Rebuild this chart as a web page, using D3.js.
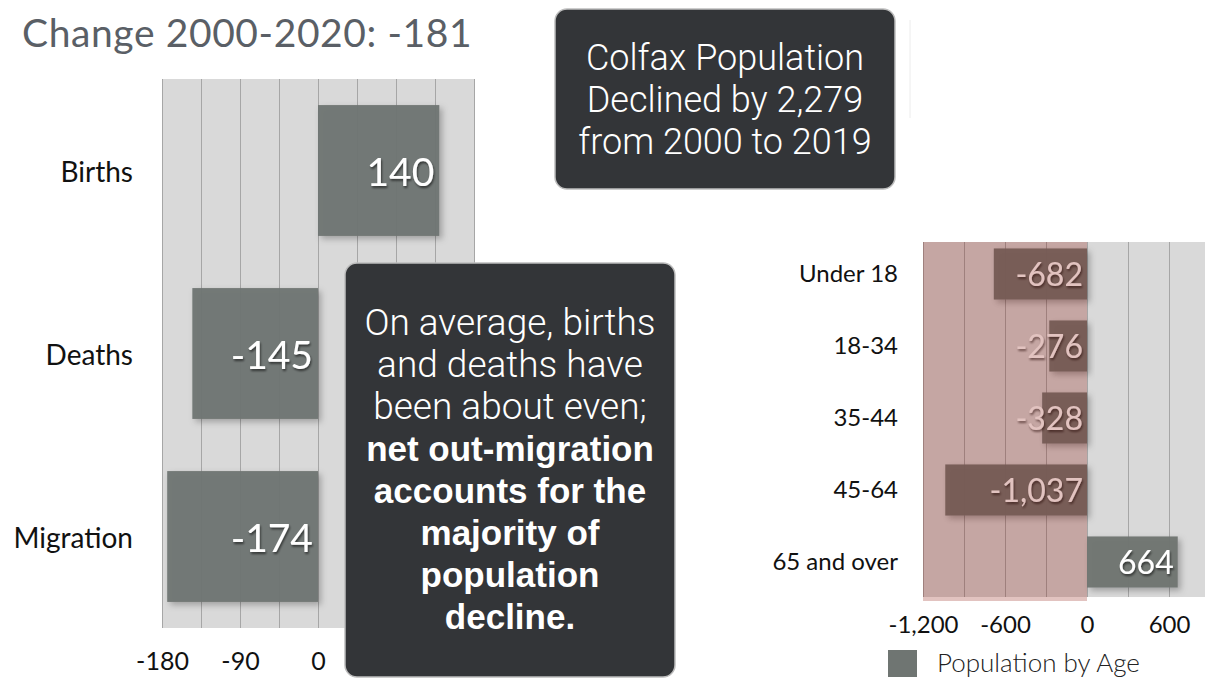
<!DOCTYPE html>
<html>
<head>
<meta charset="utf-8">
<script src="https://cdn.jsdelivr.net/npm/d3@7"></script>
<style>
  html, body { margin: 0; padding: 0; background: #ffffff; }
  svg { display: block; }
</style>
</head>
<body>
<svg id="chart" width="1205" height="679"></svg>
<script>
// Components of change, 2000-2020
const componentNames = ["Births", "Deaths", "Migration"];
const componentValues = [140, -145, -174];
const componentTicks = [-180, -90, 0, 90, 180];
const componentGridStep = 45;

// Population change by age group
const ageGroups = ["Under 18", "18-34", "35-44", "45-64", "65 and over"];
const ageValues = [-682, -276, -328, -1037, 664];
const ageTicks = [-1200, -600, 0, 600];
const ageGridStep = 300;

const titleText = "Change 2000-2020: -181";
const legendLabel = "Population by Age";
const headlineLines = ["Colfax Population", "Declined by 2,279", "from 2000 to 2019"];
const noteLines = [
  { t: "On average, births", bold: false },
  { t: "and deaths have", bold: false },
  { t: "been about even;", bold: false },
  { t: "net out-migration", bold: true },
  { t: "accounts for the", bold: true },
  { t: "majority of", bold: true },
  { t: "population", bold: true },
  { t: "decline.", bold: true }
];

const fmt = d3.formatLocale({ decimal: ".", thousands: ",", grouping: [3], currency: ["$", ""], minus: "-" }).format(",");

const BAR = "#6f7572";
const PLOT_BG = "#d9d9d9";
const GRID = "#a6a6a6";
const LABEL_FONT = "Lato, 'Gill Sans', 'Noto Sans', sans-serif";

const svg = d3.select("#chart");
const defs = svg.append("defs");

const barShadow = defs.append("filter").attr("id", "barShadow")
  .attr("x", "-10%").attr("y", "-10%").attr("width", "130%").attr("height", "130%");
barShadow.append("feDropShadow").attr("dx", 3).attr("dy", 3).attr("stdDeviation", 3)
  .attr("flood-color", "#000").attr("flood-opacity", 0.28);

const textShadow = defs.append("filter").attr("id", "textShadow")
  .attr("x", "-10%").attr("y", "-10%").attr("width", "130%").attr("height", "140%");
textShadow.append("feDropShadow").attr("dx", 1).attr("dy", 2).attr("stdDeviation", 1)
  .attr("flood-color", "#000").attr("flood-opacity", 0.55);

// ---------- Title ----------
svg.append("text")
  .attr("x", 22).attr("y", 47)
  .attr("font-family", "Lato, 'Open Sans', sans-serif")
  .attr("font-size", 39)
  .attr("letter-spacing", 0.6)
  .attr("fill", "#5a5f66")
  .text(titleText);

// ---------- Components chart ----------
const xC = d3.scaleLinear().domain([-180, 180]).range([162, 474]);
const yC = d3.scaleBand().domain(componentNames).range([79, 628]).paddingInner(0.285).paddingOuter(0.1425);

const gC = svg.append("g");
gC.append("rect")
  .attr("x", xC(-180)).attr("y", 79)
  .attr("width", xC(180) - xC(-180)).attr("height", 628 - 79)
  .attr("fill", PLOT_BG);

gC.append("g")
  .attr("transform", "translate(0,628)")
  .call(d3.axisBottom(xC).tickValues(d3.range(-180, 181, componentGridStep)).tickSize(-(628 - 79)).tickFormat(""))
  .call(g => g.select(".domain").remove())
  .call(g => g.selectAll("line").attr("stroke", GRID).attr("stroke-width", 1));

gC.selectAll("rect.bar")
  .data(componentValues)
  .join("rect")
  .attr("class", "bar")
  .attr("x", d => xC(Math.min(0, d)))
  .attr("width", d => Math.abs(xC(d) - xC(0)))
  .attr("y", (d, i) => yC(componentNames[i]))
  .attr("height", yC.bandwidth())
  .attr("fill", BAR)
  .attr("fill-opacity", 0.95)
  .attr("filter", "url(#barShadow)");

gC.selectAll("text.val")
  .data(componentValues)
  .join("text")
  .attr("class", "val")
  .attr("x", d => xC(Math.max(0, d)) - 5)
  .attr("y", (d, i) => yC(componentNames[i]) + yC.bandwidth() / 2 + 15)
  .attr("text-anchor", "end")
  .attr("font-family", LABEL_FONT)
  .attr("font-size", 39)
  .attr("fill", "#ffffff")
  .attr("filter", "url(#textShadow)")
  .text(d => fmt(d));

gC.selectAll("text.cat")
  .data(componentNames)
  .join("text")
  .attr("class", "cat")
  .attr("x", 133)
  .attr("y", d => yC(d) + yC.bandwidth() / 2 + 11)
  .attr("text-anchor", "end")
  .attr("font-family", LABEL_FONT)
  .attr("font-size", 28)
  .attr("fill", "#111")
  .text(d => d);

gC.append("g")
  .attr("transform", "translate(0,670)")
  .call(d3.axisBottom(xC).tickValues(componentTicks).tickSize(0).tickPadding(0).tickFormat(fmt))
  .call(g => g.select(".domain").remove())
  .call(g => g.selectAll("text")
    .attr("dy", 0)
    .attr("font-family", LABEL_FONT)
    .attr("font-size", 25)
    .attr("fill", "#111"));

// ---------- Age group chart ----------
const xA = d3.scaleLinear().domain([-1200, 900]).range([923, 1210]);
const yA = d3.scaleBand().domain(ageGroups).range([238, 598]).paddingInner(0.29).paddingOuter(0.145);
const plotTopA = 242, plotBottomA = 597;

const gA = svg.append("g");
gA.append("rect")
  .attr("x", xA(-1200)).attr("y", plotTopA)
  .attr("width", xA(900) - xA(-1200)).attr("height", plotBottomA - plotTopA)
  .attr("fill", PLOT_BG);

gA.append("g")
  .attr("transform", `translate(0,${plotBottomA})`)
  .call(d3.axisBottom(xA).tickValues(d3.range(-1200, 901, ageGridStep)).tickSize(-(plotBottomA - plotTopA)).tickFormat(""))
  .call(g => g.select(".domain").remove())
  .call(g => g.selectAll("line").attr("stroke", GRID).attr("stroke-width", 1));

gA.selectAll("rect.bar")
  .data(ageValues)
  .join("rect")
  .attr("class", "bar")
  .attr("x", d => xA(Math.min(0, d)))
  .attr("width", d => Math.abs(xA(d) - xA(0)))
  .attr("y", (d, i) => yA(ageGroups[i]))
  .attr("height", yA.bandwidth())
  .attr("fill", BAR)
  .attr("fill-opacity", 0.97)
  .attr("filter", "url(#barShadow)");

gA.selectAll("text.val")
  .data(ageValues)
  .join("text")
  .attr("class", "val")
  .attr("x", d => xA(Math.max(0, d)) - 4)
  .attr("y", (d, i) => yA(ageGroups[i]) + yA.bandwidth() / 2 + 12)
  .attr("text-anchor", "end")
  .attr("font-family", LABEL_FONT)
  .attr("font-size", 32)
  .attr("fill", "#ffffff")
  .attr("filter", "url(#textShadow)")
  .text(d => fmt(d));

// Translucent band over the losses side
gA.append("rect")
  .attr("x", xA(-1200)).attr("y", plotTopA)
  .attr("width", xA(0) - xA(-1200)).attr("height", plotBottomA - plotTopA + 4)
  .attr("fill", "rgb(140,16,4)")
  .attr("fill-opacity", 0.25);

gA.selectAll("text.cat")
  .data(ageGroups)
  .join("text")
  .attr("class", "cat")
  .attr("x", 898)
  .attr("y", d => yA(d) + yA.bandwidth() / 2 + 8)
  .attr("text-anchor", "end")
  .attr("font-family", LABEL_FONT)
  .attr("font-size", 24)
  .attr("fill", "#111")
  .text(d => d);

gA.append("g")
  .attr("transform", "translate(0,633)")
  .call(d3.axisBottom(xA).tickValues(ageTicks).tickSize(0).tickPadding(0).tickFormat(fmt))
  .call(g => g.select(".domain").remove())
  .call(g => g.selectAll("text")
    .attr("dy", 0)
    .attr("font-family", LABEL_FONT)
    .attr("font-size", 24)
    .attr("fill", "#111"));

// Legend
const legend = svg.append("g").attr("transform", "translate(888,650)");
legend.append("rect").attr("width", 29).attr("height", 27).attr("fill", BAR);
legend.append("text")
  .attr("x", 49).attr("y", 22)
  .attr("font-family", LABEL_FONT)
  .attr("font-weight", 300)
  .attr("font-size", 26)
  .attr("fill", "#222")
  .text(legendLabel);

// ---------- Call-out boxes ----------
const BOX_FILL = "#333538";
const BOX_STROKE = "#bdbdbd";

const head = svg.append("g");
head.append("rect")
  .attr("x", 555).attr("y", 9).attr("width", 340).attr("height", 180)
  .attr("rx", 12).attr("fill", BOX_FILL).attr("stroke", BOX_STROKE).attr("stroke-width", 1.5);
head.selectAll("text")
  .data(headlineLines)
  .join("text")
  .attr("x", 725)
  .attr("y", (d, i) => 70 + i * 42)
  .attr("text-anchor", "middle")
  .attr("font-family", "Roboto, 'Liberation Sans', sans-serif")
  .attr("font-weight", 300)
  .attr("font-size", 36)
  .attr("fill", "#ffffff")
  .text(d => d);

svg.append("line")
  .attr("x1", 910).attr("x2", 910).attr("y1", 20).attr("y2", 118)
  .attr("stroke", "#ececec").attr("stroke-width", 1);

const note = svg.append("g");
note.append("rect")
  .attr("x", 345).attr("y", 263).attr("width", 330).attr("height", 414)
  .attr("rx", 12).attr("fill", BOX_FILL).attr("stroke", BOX_STROKE).attr("stroke-width", 1.5);
note.selectAll("text")
  .data(noteLines)
  .join("text")
  .attr("x", 510)
  .attr("y", (d, i) => 335 + i * 42)
  .attr("text-anchor", "middle")
  .attr("font-family", d => d.bold ? "'Liberation Sans', Arial, sans-serif" : "Roboto, 'Liberation Sans', sans-serif")
  .attr("font-weight", d => d.bold ? 700 : 300)
  .attr("font-size", d => d.bold ? 35 : 37)
  .attr("fill", "#ffffff")
  .text(d => d.t);
</script>
</body>
</html>
